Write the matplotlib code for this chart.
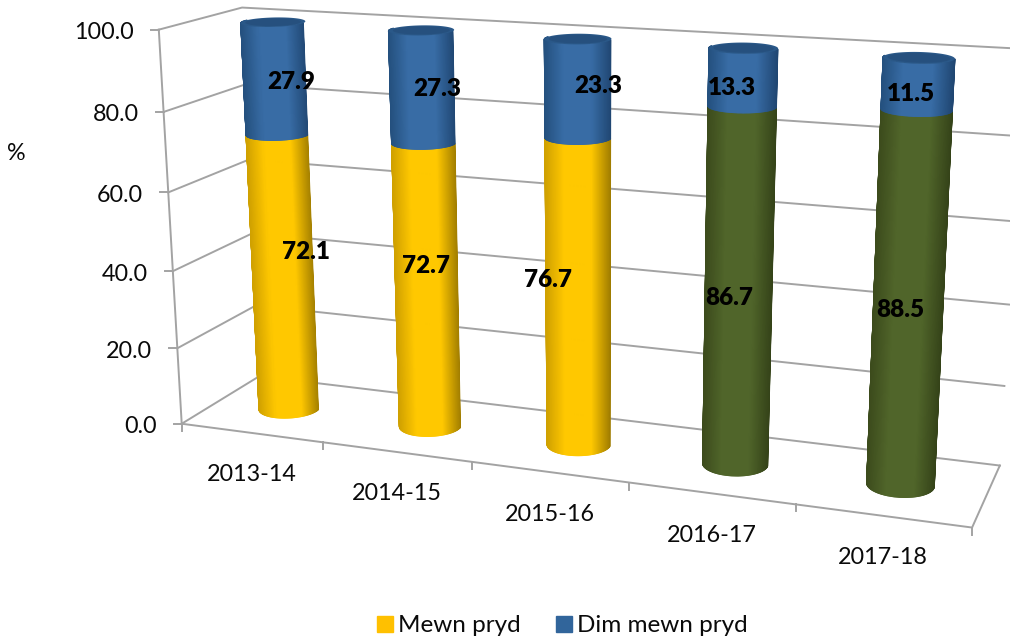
import matplotlib
matplotlib.use('Agg')
import matplotlib.pyplot as plt
from matplotlib.collections import PolyCollection
from matplotlib.patches import Patch
import numpy as np

plt.rcParams['font.family'] = ['Lato', 'DejaVu Sans']

years = ['2013-14', '2014-15', '2015-16', '2016-17', '2017-18']
mewn_pryd = [72.1, 72.7, 76.7, 86.7, 88.5]
dim_mewn_pryd = [27.9, 27.3, 23.3, 13.3, 11.5]
value_ticks = [0, 20, 40, 60, 80, 100]

YELLOW = ['#cfa000', '#ffc800', '#ffc800', '#9a7800']
GREEN = ['#3c4b1c', '#50652a', '#50652a', '#344218']
BLUE = ['#24507e', '#386ca5', '#386ca5', '#1f4570']
bar_styles = [YELLOW, YELLOW, YELLOW, GREEN, GREEN]

# perspective of the excel 3d box: (category, depth, value) -> picture pixel, fitted on the box corners
world = [(0, 0, 0), (0, 0, 100), (0, 1, 0), (0, 1, 100), (5, 1, 0), (5, 1, 100), (5, 0, 0),
         (1, 0, 0), (2, 0, 0), (3, 0, 0), (4, 0, 0), (0, 0, 20), (0, 0, 40), (0, 0, 60), (0, 0, 80)]
pixel = [(182, 423), (159, 30), (259, 377), (242, 8), (1000, 464), (1024, 49), (972, 527),
         (323, 443), (472, 463), (630, 484), (795, 505), (178, 347), (173, 270), (168, 192), (163, 112)]

A, b = [], []
for (X, Y, Z), (px, py) in zip(world, pixel):
    A.append([X, Y, Z, 1, 0, 0, 0, 0, -px*X, -px*Y, -px*Z])
    b.append(px)
    A.append([0, 0, 0, 0, X, Y, Z, 1, -py*X, -py*Y, -py*Z])
    b.append(py)
cam = np.append(np.linalg.lstsq(np.array(A, float), np.array(b, float), rcond=None)[0], 1).reshape(3, 4)


def proj(u, d, v):
    u, d, v = np.broadcast_arrays(u, d, v)
    p = cam @ np.array([u, d, v, np.ones_like(u)], float)
    return p[0]/p[2], p[1]/p[2]


def pt(u, d, v):
    x, y = proj(u, d, v)
    return float(x), float(y)


fig = plt.figure(figsize=(10.10, 6.39), dpi=100)
ax = fig.add_axes([0, 0, 1, 1])
ax.set_xlim(0, 1010)
ax.set_ylim(639, 0)
ax.axis('off')

GRID = '#a3a3a3'
TEXT = '#0a0a0a'
FS = 16.8
# walls and floor
for v in value_ticks:
    line = [pt(0, 0, v), pt(0, 1, v), pt(5, 1, v)]
    ax.plot(*zip(*line), color=GRID, lw=1.4, zorder=1)
floor = [pt(0, 0, 0), pt(5, 0, 0), pt(5, 1, 0)]
ax.plot(*zip(*floor), color=GRID, lw=1.4, zorder=1)
ax.plot(*zip(pt(0, 0, 0), pt(0, 0, 100)), color=GRID, lw=1.4, zorder=1)

# ticks and labels
for v in value_ticks:
    x, y = pt(0, 0, v)
    ax.plot([x-8, x], [y, y], color=GRID, lw=1.4, zorder=1)
    ax.text(x-25, y+3, '%.1f' % v, ha='right', va='center', fontsize=FS, color=TEXT)
for i in range(6):
    x, y = pt(i, 0, 0)
    ax.plot([x, x], [y, y+7], color=GRID, lw=1.4, zorder=1)
for i, name in enumerate(years):
    x, y = pt(i+.5, 0, 0)
    ax.text(x, y+42, name, ha='center', va='center', fontsize=FS, color=TEXT)

ax.text(16, 154, '%', ha='center', va='center', fontsize=FS, color=TEXT)

# cylinders
ru, rd = .195, .2
theta = np.linspace(0, 2*np.pi, 181)


def cylinder(i, v0, v1, style, z):
    cu, cd = i+.5, .5
    us = cu+ru*np.cos(theta)
    ds = cd+rd*np.sin(theta)
    x0, y0 = proj(us, ds, v0)
    x1, y1 = proj(us, ds, v1)
    s = (x0-x0.min())/(x0.max()-x0.min())
    rgb = [matplotlib.colors.to_rgb(c) for c in style]
    polys, cols = [], []
    # only the side facing us, far edge strips first
    for k in np.argsort(-ds[:-1]):
        if np.sin(theta[k]) > .12:
            continue
        polys.append([(x0[k], y0[k]), (x0[k+1], y0[k+1]), (x1[k+1], y1[k+1]), (x1[k], y1[k])])
        cols.append([np.interp(s[k], [0, .28, .68, 1], [c[j] for c in rgb]) for j in range(3)])
    ax.add_collection(PolyCollection(polys, facecolors=cols, edgecolors=cols, linewidths=.8, zorder=z))


for i in range(len(years)):
    z = 3+i
    cylinder(i, 0, mewn_pryd[i], bar_styles[i], z)
    top = mewn_pryd[i]+dim_mewn_pryd[i]
    cylinder(i, mewn_pryd[i], top, BLUE, z+.1)
    xc, yc = proj(i+.5+ru*np.cos(theta), .5+rd*np.sin(theta), top)
    ax.fill(xc, yc, color='#2a5888', lw=0, zorder=z+.2)
    xc, yc = proj(i+.5+.88*ru*np.cos(theta), .5+.8*rd*np.sin(theta), top)
    ax.fill(xc, yc, color='#26507e', lw=0, zorder=z+.3)

# data labels, excel puts them off centre so shift from the segment middle
shift_low = [(22, -21), (-1, -21), (-31, -14), (-9, 9), (-8, 8)]
shift_high = [(16, 4), (15, 2), (20, -3), (-11, 11), (-7, 10)]
for i in range(len(years)):
    x, y = pt(i+.5, .5, mewn_pryd[i]/2)
    ax.text(x+shift_low[i][0], y+shift_low[i][1], '%.1f' % mewn_pryd[i], ha='center', va='center',
            fontsize=17.5, fontweight='heavy', color='black', zorder=20)
    x, y = pt(i+.5, .5, mewn_pryd[i]+dim_mewn_pryd[i]/2)
    ax.text(x+shift_high[i][0], y+shift_high[i][1], '%.1f' % dim_mewn_pryd[i], ha='center', va='center',
            fontsize=17.5, fontweight='heavy', color='black', zorder=20)

handles = [Patch(color='#ffc000', label='Mewn pryd'), Patch(color='#31659b', label='Dim mewn pryd')]
ax.legend(handles=handles, ncol=2, frameon=False, loc='center', bbox_to_anchor=(562.5/1010, 1-626/639),
          fontsize=17.5, handlelength=.62, handleheight=.62, handletextpad=.22, columnspacing=1.48,
          labelcolor=TEXT)

fig.savefig('out.png', dpi=100)
